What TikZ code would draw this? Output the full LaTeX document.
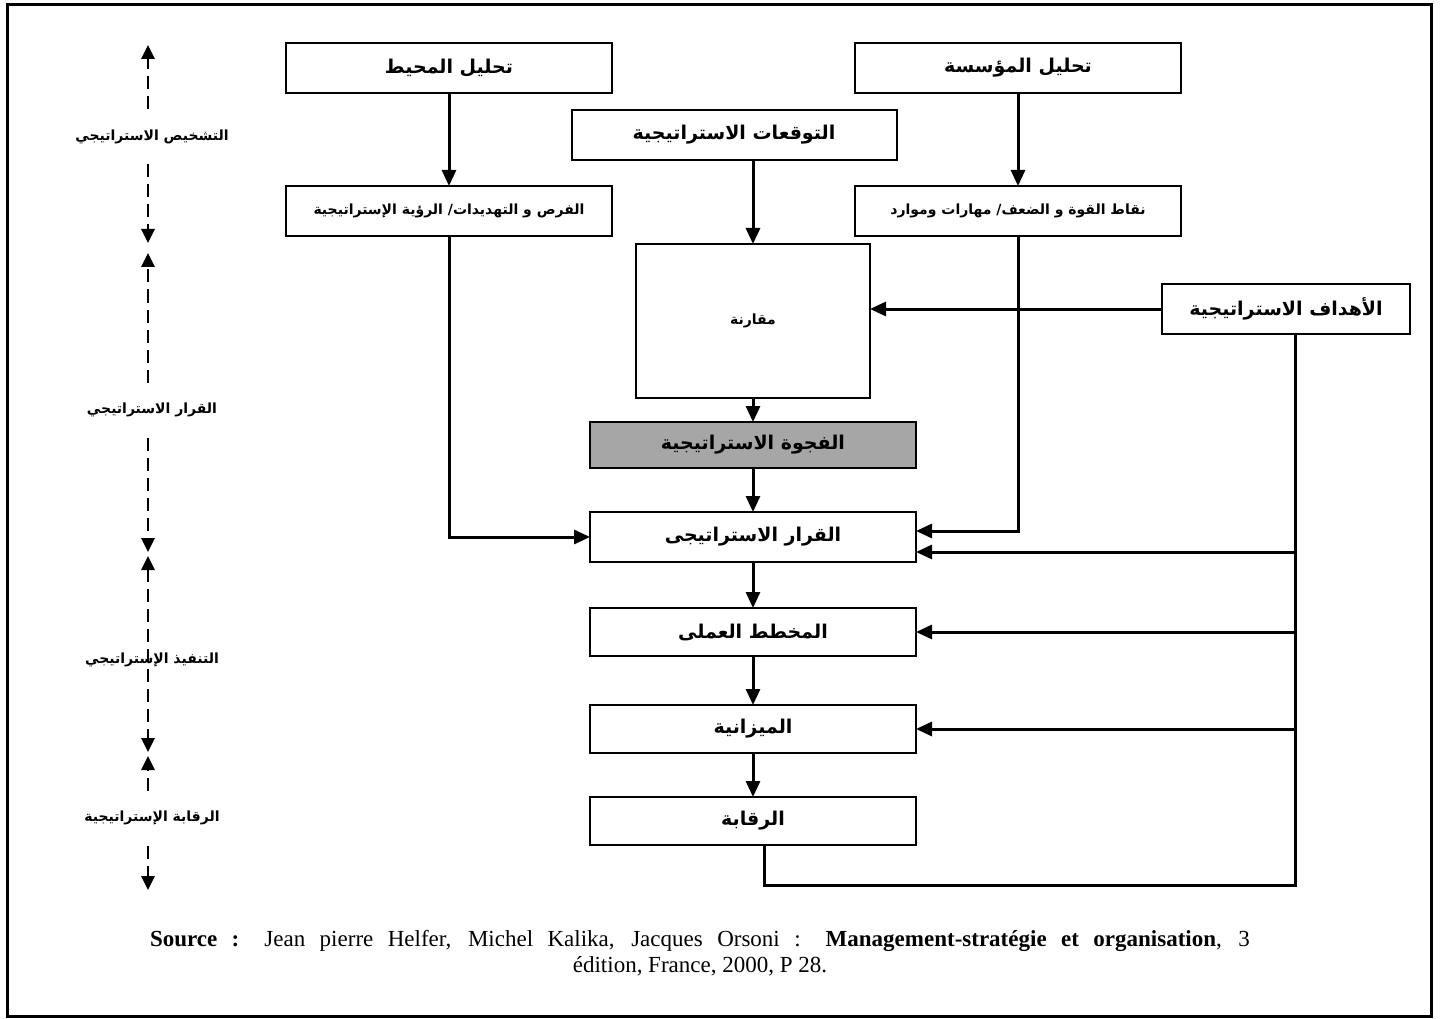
\documentclass[tikz,border=0pt]{standalone}
\usepackage{fontspec}
\setmainfont{Liberation Serif}
\newfontfamily\arabicfont[Script=Arabic]{DejaVu Sans}
\TeXXeTstate=1
\usetikzlibrary{arrows.meta}
\definecolor{gapgray}{RGB}{166,166,166}

\begin{document}
\begin{tikzpicture}[x=1pt, y=-1pt]
\tikzset{ >={Triangle[length=16pt,width=14pt]}, inner sep=0pt, outer sep=0pt,
  box/.style={draw, line width=2pt, minimum width=326pt, minimum height=50pt,
    font=\arabicfont\bfseries\fontsize{19}{22}\selectfont},
  smallbox/.style={box, font=\arabicfont\bfseries\fontsize{14}{16}\selectfont},
  phase/.style={minimum height=55pt, font=\arabicfont\bfseries\fontsize{14}{16}\selectfont},
  link/.style={line width=3pt},
  phasearrow/.style={line width=2.6pt, dash pattern=on 13pt off 7pt,
    >={Triangle[length=14pt,width=13pt]}},
}

\useasboundingbox (0,0) rectangle (1441,1019);
\draw [line width=3pt] (7,5) rectangle (1431,1016);

%\draw [lightgray, dashed](0,0) grid (1441,1019);

\node [box] (ENV) at (449,68)  {\beginR تحليل المحيط\endR};
\node [box] (ORG) at (1018,68) {\beginR تحليل المؤسسة\endR};
\node [box, minimum width=325pt] (EXP) at (734,135) {\beginR التوقعات الاستراتيجية\endR};
\node [smallbox] (OPP) at (449,211)  {\beginR الفرص و التهديدات/ الرؤية الإستراتيجية\endR};
\node [smallbox] (STR) at (1018,211) {\beginR نقاط القوة و الضعف/ مهارات وموارد\endR};
\node [smallbox, minimum width=234pt, minimum height=154pt] (CMP) at (753,321) {\beginR مقارنة\endR};
\node [box, minimum width=248pt] (OBJ) at (1286,309) {\beginR الأهداف الاستراتيجية\endR};
\node [box, fill=gapgray, minimum height=46pt] (GAP) at (753,445) {\beginR الفجوة الاستراتيجية\endR};
\node [box] (DEC) at (753,537) {\beginR القرار الاستراتيجى\endR};
\node [box, minimum height=48pt] (PLAN) at (753,632) {\beginR المخطط العملى\endR};
\node [box, minimum height=48pt] (BUD)  at (753,729) {\beginR الميزانية\endR};
\node [box, minimum height=48pt] (CTL)  at (753,821) {\beginR الرقابة\endR};

\draw [link, ->] (ENV) -- (OPP);
\draw [link, ->] (ORG) -- (STR);
\draw [link, ->] (EXP.south -| CMP) -- (CMP);
\draw [link, ->] (CMP) -- (GAP);
\draw [link, ->] (GAP) -- (DEC);
\draw [link, ->] (DEC) -- (PLAN);
\draw [link, ->] (PLAN) -- (BUD);
\draw [link, ->] (BUD) -- (CTL);

\draw [link, ->] (OPP) |- (DEC);
\draw [link, ->] (STR) |- ([yshift=6pt]DEC.east);
\draw [link, ->] (OBJ) -- (OBJ -| CMP.east);

\coordinate (K) at (1295,885);
\draw [link] (OBJ.south -| K) -- (K) -| ([xshift=11pt]CTL.south);
\draw [link, ->] ([yshift=-15pt]DEC.east -| K) -- ([yshift=-15pt]DEC.east);
\draw [link, ->] (PLAN -| K) -- (PLAN.east);
\draw [link, ->] (BUD -| K) -- (BUD.east);

% phases on the left
\coordinate (A1) at (148,45);  \coordinate (B1) at (148,243);
\coordinate (A2) at (148,253); \coordinate (B2) at (148,552);
\coordinate (A3) at (148,556); \coordinate (B3) at (148,752);
\coordinate (A4) at (148,756); \coordinate (B4) at (148,890);

\node [phase] (P1) at (152,137) {\beginR التشخيص الاستراتيجي\endR};
\node [phase] (P2) at (152,410) {\beginR القرار الاستراتيجي\endR};
\node [phase] (P3) at (152,660) {\beginR التنفيذ الإستراتيجي\endR};
\node [phase] (P4) at (152,818) {\beginR الرقابة الإستراتيجية\endR};

\draw [phasearrow, ->] (P1.north -| A1) -- (A1);
\draw [phasearrow, ->] (P1.south -| B1) -- (B1);
\draw [phasearrow, ->] (P2.north -| A2) -- (A2);
\draw [phasearrow, ->] (P2.south -| B2) -- (B2);
\draw [phasearrow, <->] (A3) -- (B3);
\draw [phasearrow, ->] (P4.north -| A4) -- (A4);
\draw [phasearrow, ->] (P4.south -| B4) -- (B4);

\node [font=\fontsize{23}{26}\selectfont, align=center] (SRC) at (700,953)
  {\makebox[1100pt][s]{\textbf{Source :} Jean pierre Helfer, Michel Kalika, Jacques Orsoni : \textbf{Management-stratégie et organisation}, 3}\\
   édition, France, 2000, P 28.};
\end{tikzpicture}
\end{document}
